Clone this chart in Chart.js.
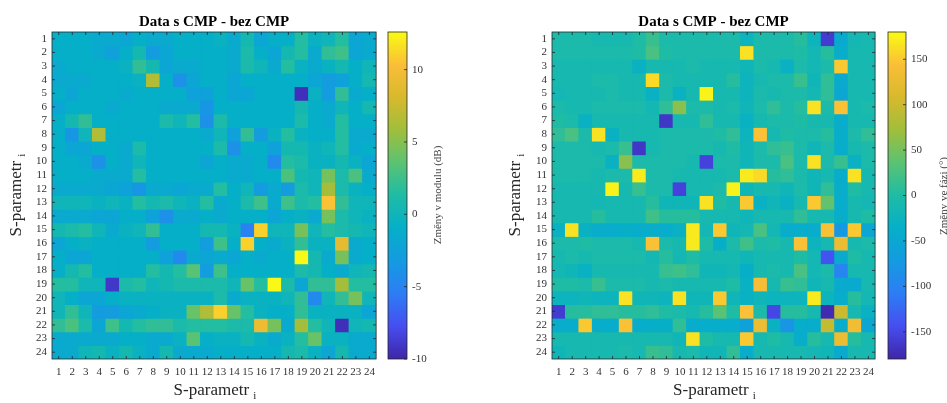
<!DOCTYPE html>
<html>
<head>
<meta charset="utf-8">
<script src="https://cdn.jsdelivr.net/npm/chart.js@4.4.1/dist/chart.umd.min.js"></script>
<style>
body { margin: 0; background: #fff; }
#wrap { position: relative; width: 947px; height: 403px; overflow: hidden; font-family: 'Liberation Serif', 'Times New Roman', serif; color: #262626; }
canvas { position: absolute; top: 0; }
.lbl { position: absolute; white-space: nowrap; text-align: center; }
.rot { transform: rotate(-90deg); }
.lbl sub { font-size: 11px; }
</style>
</head>
<body>
<div id="wrap">
  <canvas id="modul" width="382" height="403" style="left:0"></canvas>
  <canvas id="modulBar" width="80" height="403" style="left:384px"></canvas>
  <canvas id="fazi" width="411" height="403" style="left:470px"></canvas>
  <canvas id="faziBar" width="63" height="403" style="left:884px"></canvas>

  <div class="lbl" style="left:52px;width:326px;top:380px;font-size:17px;line-height:20px">S-parametr <sub>i</sub></div>
  <div class="lbl rot" style="left:-84px;top:185px;width:200px;height:20px;font-size:17px;line-height:20px">S-parametr <sub>i</sub></div>
  <div class="lbl" style="left:552px;width:325px;top:380px;font-size:17px;line-height:20px">S-parametr <sub>i</sub></div>
  <div class="lbl rot" style="left:415px;top:185px;width:200px;height:20px;font-size:17px;line-height:20px">S-parametr <sub>i</sub></div>

  <div class="lbl rot" style="left:337px;top:187px;width:200px;height:16px;font-size:11px;line-height:16px;color:#444">Změny v modulu (dB)</div>
  <div class="lbl rot" style="left:843px;top:188px;width:200px;height:16px;font-size:11px;line-height:16px;color:#444">Změny ve fázi (°)</div>
</div>
<script>
const sLabels = ['1','2','3','4','5','6','7','8','9','10','11','12','13','14','15','16','17','18','19','20','21','22','23','24'];

// změny v modulu (dB), řádky 1..24, sloupce 1..24
const modulData = [
  [-1,-1,-1,-1.5,-1.5,-2,-1,-1.5,-1.5,-1,-1,-1,-0.5,-1.5,0.5,-2,-1,-1,1.5,-0.5,0,1.5,-2,-1.5],
  [-1,-1,-1,-1.5,-2.5,-1,0.5,-3,-2,-1,-1,-1,-1,-1.5,1,-1,-2,0.5,1.5,-1.5,2,2.5,-2,-1.5],
  [-1.5,-1,-1,-1,-1,-0.5,2,0.5,-2,-1.5,-1.5,-1,-1,-1.5,1,0,-1.5,1.5,-0.5,-1.5,-0.5,0.5,-1,0],
  [-1.5,-1.5,-1.5,-1,-1,-1,-0.5,6.5,-1,-4,-2,-1,-1,-2,-1,-1,-1,-1,-1,-2,-3,-2.5,-1,0.5],
  [-1,-2,-1,-1,-1,-1.5,-1,-1,-1,-1,-2.5,-2.5,-1,-2,-2,-1,-1,-1,-9.5,-0.5,-3,2,-1.5,-1],
  [-2,-1,-1,-1,-1.5,-1,-1,-1,-1.5,-1.5,-1.5,-3.5,-1,-1,-1,-1,-1,-1,0.5,-1,-1.5,0,-1,0.5],
  [-1,0.5,2,-1,-1,-1,-1,-1,1,0,1.5,-4,1,-1,-1,-1,-1,-1,1,-1,-1.5,1.5,-1,-1],
  [-1,-3.5,0,6.5,-1,-1,-1,-1,-1,-1,-1,-1.5,0,-2.5,2,-3,-0.5,1.5,-0.5,-1,-1,1.5,-1.5,-1.5],
  [-1,-2,-2,-1,-1,-1.5,1,-1,-1,-1,-1,-1,1,-4,-1,-1,-2.5,0.5,0.5,-0.5,0,1.5,-1.5,-1],
  [-1,-1,-1.5,-4,-1,-1.5,0,-1,-1,-1,-1,-2,-1,-1.5,-1.5,-1,-4.5,1.5,1,-0.5,-0.5,0.5,-0.5,-2],
  [-1,-1,-1,-1.5,-1.5,-1.5,1.5,-1,-1,-1,-1,-1,-1,-1.5,-1.5,-1,-1,3,0.5,0,4.5,1,3,-1.5],
  [-1.5,-1.5,-1.5,-1.5,-2,-2.5,-3.5,-1.5,-1.5,-2,-1.5,-1.5,1.5,-1,0,-3,-1.5,-3,1,0,6,1,-0.5,-1],
  [0,0,0,-0.5,0,-0.5,1.5,0.5,1,0,-0.5,1.5,-1.5,-1,1,2.5,-1.5,2.5,1,1.5,10.5,2,0,0],
  [-1.5,-1.5,-1.5,-2,-2,-1,-1,-2.5,-4,-1.5,-1.5,-1,-1.5,-1,-1,-1,-2,-1,-0.5,-1.5,4.5,1,0,-0.5],
  [0.5,1,1.5,0,-1.5,-0.5,0,2,-1,-1,-1,0.5,0.5,-0.5,-5,11,0,0,4.5,0,1.5,1,0.5,0],
  [-2,-1,-0.5,-1,-1,-1,-1,-3,-1,-1,-1,-3,2.5,-1,11,-1,-1.5,-0.5,2,-0.5,-0.5,9,-1.5,-1],
  [-1,-2,-2,-1,-1,-1,-1,-1,-2.5,-4.5,-1.5,-2,-1.5,-2,-1,-1.5,-1,-1,12.5,0.5,-1.5,4.5,-1.5,-1],
  [-1,0.5,1.5,-1,-1,-1,-1,1.5,0.5,1.5,3.5,-3,2.5,-1,-1,-1,-1,-1,1,0.5,-1,-1.5,0,0.5],
  [1.5,1.5,0,0,-9,1,1.5,0,0.5,1,1,1,1,0,4,1.5,12.5,1,-2,2,2,6,1.5,1.5],
  [0,-1,-2,-2,-1,-0.5,-0.5,-0.5,-0.5,-0.5,-0.5,-0.5,1,-1.5,-0.5,-0.5,-0.5,0,2,-4.5,0,2,4.5,0],
  [0,2,0,-3,-3,-2,-1.5,-1,-0.5,-0.5,4,6.5,11,4,1.5,-0.5,-1,-1,2,-0.5,-0.5,-0.5,-0.5,-2],
  [2,3,1,-2,2.5,0.5,1.5,2,2,1,1.5,1.5,1.5,1,1,9.5,4.5,-1.5,6,1.5,0,-9.5,0,0.5],
  [-1.5,-1.5,-1.5,-1.5,-1.5,-1,-1,-1.5,-1.5,-0.5,3.5,-1,-0.5,-0.5,0.5,-0.5,-1.5,-0.5,1.5,4,-0.5,-0.5,-1.5,-1.5],
  [-1.5,-1.5,0,0.5,-0.5,0.5,-0.5,-1.5,0.5,-1.5,-1.5,-1.5,-1,-1,-1,-1,-1,0.5,1,-0.5,-2,0.5,-1.5,-1.5]
];

// změny ve fázi (°)
const faziData = [
  [-5,-5,-5,-10,-10,-10,0,15,-5,-5,-5,-5,-5,-5,-25,-5,-5,-5,5,-25,-160,-45,-15,-10],
  [-5,-5,-5,-5,-5,-5,0,25,0,-5,-5,-5,-5,-5,165,-5,-5,-5,0,-15,5,-40,-10,-10],
  [-10,-10,-10,-10,-10,-10,-30,-10,-10,-10,-5,-10,-10,-10,-20,-5,-10,-30,-5,-15,-5,150,-10,-10],
  [-10,-10,-10,-5,-5,-10,-10,160,-5,-10,-10,-10,-10,5,-25,-10,-5,-5,15,-20,10,-45,-10,-10],
  [-15,-10,-10,-10,-5,-10,-10,-30,-5,-30,-10,175,-10,-10,-25,-5,-10,-5,-5,-15,10,-50,-10,-10],
  [-5,-10,-10,-5,-5,-5,-5,-15,10,60,-5,-5,-10,-5,-20,-5,10,-5,5,165,-5,145,-10,-5],
  [0,-5,-30,-10,-10,-10,-10,-10,-165,-10,-10,10,-10,-10,-30,-10,-5,-5,0,-10,-10,-40,-10,-10],
  [10,25,-5,165,-30,-10,-10,-10,-5,-5,-5,-5,0,10,-25,145,-10,0,-5,-5,5,-40,-5,10],
  [-5,-5,-5,-10,-5,15,-165,-10,-5,-5,-5,-5,-10,0,-20,-5,10,15,-5,-20,-5,-40,-10,-5],
  [-5,-5,-5,-5,-30,60,-5,-5,-5,-5,-10,-155,-5,-5,-20,-5,-5,25,-5,165,-5,15,-30,-5],
  [-5,-5,-5,-10,-5,-5,170,-5,-5,-10,-10,-10,-10,-5,170,160,5,10,-5,-20,-10,-40,165,-10],
  [-10,-10,-10,-10,175,-10,15,-5,-5,-155,-10,-10,-5,175,-20,-10,-10,-20,-5,-20,10,-40,0,-10],
  [-10,-10,-10,-15,-10,-10,-10,5,-20,-20,-20,165,0,-10,150,-30,-20,-30,-10,150,40,-40,-10,-15],
  [-10,-10,-10,5,-10,-10,-10,20,5,5,5,-10,-10,-10,-20,-10,-10,-10,10,-10,-10,-40,-10,0],
  [-30,165,-30,-40,-40,-35,-40,-40,-40,-30,170,-15,150,-20,-15,25,-15,-40,-40,-40,145,-75,150,-50],
  [-5,-5,0,-5,-5,-5,-10,145,-5,-10,170,0,-35,-5,20,-5,0,-10,145,-25,-10,130,-10,-5],
  [-10,-5,-10,-5,-5,-5,-5,-15,5,-15,0,-10,-10,-10,-20,-10,-10,-10,0,-15,-140,-45,0,-10],
  [-15,-20,-30,-10,-10,-10,-10,-10,15,20,10,-20,-20,-15,-35,-10,-5,-10,25,-15,-5,-100,-10,-10],
  [0,0,-5,15,-5,-5,-5,-10,-5,-10,-10,-10,-10,0,-30,140,-10,15,10,-20,-10,-45,-45,-10],
  [-25,-25,-20,-25,-25,165,-20,-20,-25,165,-20,-20,150,-20,-30,-20,-25,-25,-25,170,-25,-40,5,-15],
  [-160,5,5,10,10,5,5,10,0,-5,-10,5,35,0,145,-5,-150,5,5,-10,-175,100,-10,-30],
  [-40,-40,150,-40,-40,145,-40,-35,-35,10,-40,-40,-40,-40,-60,130,-30,-80,-40,-40,95,-40,135,-50],
  [-10,-10,-10,-10,-10,-10,-10,-10,-10,-20,165,0,-10,-10,150,-10,0,-10,-40,5,-10,130,5,-10],
  [-20,-10,-10,-10,-10,-5,-10,15,10,-10,-5,-20,-20,10,-40,-10,-10,-10,-10,-15,-20,-45,-10,-10]
];

const modulRange = [-10, 12.6];
const faziRange = [-180, 180];
const modulTicks = [-10, -5, 0, 5, 10];
const faziTicks = [-150, -100, -50, 0, 50, 100, 150];

// parula (přibližně), po 0.1
const parulaStops = [
  [62, 38, 168], [70, 78, 240], [45, 125, 245], [20, 155, 225], [5, 175, 200],
  [30, 188, 165], [90, 195, 115], [160, 190, 60], [215, 185, 45], [250, 190, 55], [249, 251, 20]
];

function parula(f) {
  f = Math.max(0, Math.min(1, f));
  const p = f * (parulaStops.length - 1);
  const i = Math.min(Math.floor(p), parulaStops.length - 2);
  const t = p - i;
  const a = parulaStops[i], b = parulaStops[i + 1];
  const c = a.map((v, k) => Math.round(v + (b[k] - v) * t));
  return 'rgb(' + c.join(',') + ')';
}

const serif = "'Liberation Serif', 'Times New Roman', serif";
const tickFont = { family: serif, size: 11 };
const tickColor = '#333';

// rámeček a ticky dovnitř jako v MATLABu
const boxTicks = {
  id: 'boxTicks',
  afterDraw(chart, args, opts) {
    const { ctx, chartArea: a } = chart;
    ctx.save();
    ctx.strokeStyle = '#262626';
    ctx.lineWidth = 0.8;
    ctx.strokeRect(a.left, a.top, a.right - a.left, a.bottom - a.top);
    ctx.beginPath();
    if (opts.x) {
      const sx = chart.scales.x;
      sx.ticks.forEach((t, i) => {
        const x = sx.getPixelForTick(i);
        ctx.moveTo(x, a.bottom); ctx.lineTo(x, a.bottom - 3);
        ctx.moveTo(x, a.top); ctx.lineTo(x, a.top + 3);
      });
    }
    const sy = chart.scales.y;
    sy.ticks.forEach((t, i) => {
      const y = sy.getPixelForTick(i);
      if (opts.left) { ctx.moveTo(a.left, y); ctx.lineTo(a.left + 3, y); }
      ctx.moveTo(a.right, y); ctx.lineTo(a.right - 3, y);
    });
    ctx.stroke();
    ctx.restore();
  }
};

function heatmap(id, matrix, range, yWidth) {
  const datasets = matrix.map((row, r) => ({
    label: sLabels[r],
    data: row.map(() => 1),
    backgroundColor: row.map(v => parula((v - range[0]) / (range[1] - range[0]))),
    borderWidth: 0,
    barPercentage: 1,
    categoryPercentage: 1,
    inflateAmount: 0.5
  }));
  return new Chart(document.getElementById(id), {
    type: 'bar',
    data: { labels: sLabels, datasets },
    plugins: [boxTicks],
    options: {
      responsive: false,
      animation: false,
      events: [],
      layout: { padding: { right: 4 } },
      plugins: {
        legend: { display: false },
        tooltip: { enabled: false },
        title: {
          display: true,
          text: 'Data s CMP - bez CMP',
          fullSize: false,
          color: '#000',
          font: { family: serif, size: 15, weight: 'bold' },
          padding: { top: 13, bottom: 1 }
        },
        boxTicks: { x: true, left: true }
      },
      scales: {
        x: {
          stacked: true,
          grid: { display: false, drawTicks: false },
          border: { display: false },
          ticks: { font: tickFont, color: tickColor, padding: 7, autoSkip: false, maxRotation: 0 },
          afterFit: s => { s.height = 44; }
        },
        y: {
          stacked: true,
          min: 0,
          max: 24,
          reverse: true,
          grid: { display: false, drawTicks: false },
          border: { display: false },
          afterBuildTicks: s => { s.ticks = sLabels.map((l, i) => ({ value: i + 0.5 })); },
          ticks: { font: tickFont, color: tickColor, padding: 5, autoSkip: false, callback: v => String(Math.round(v + 0.5)) },
          afterFit: s => { s.width = yWidth; }
        }
      }
    }
  });
}

function colorbar(id, range, ticks, yWidth) {
  return new Chart(document.getElementById(id), {
    type: 'bar',
    data: {
      labels: [''],
      datasets: [{
        data: [range],
        borderWidth: 0,
        barPercentage: 1,
        categoryPercentage: 1,
        backgroundColor: ctx => {
          const chart = ctx.chart;
          if (!chart.chartArea) return parula(0.5);
          const sy = chart.scales.y;
          const g = chart.ctx.createLinearGradient(0, sy.getPixelForValue(range[0]), 0, sy.getPixelForValue(range[1]));
          parulaStops.forEach((c, i) => g.addColorStop(i / (parulaStops.length - 1), 'rgb(' + c.join(',') + ')'));
          return g;
        }
      }]
    },
    plugins: [boxTicks],
    options: {
      responsive: false,
      animation: false,
      events: [],
      layout: { padding: { left: 4, top: 32, bottom: 44 } },
      plugins: {
        legend: { display: false },
        tooltip: { enabled: false },
        boxTicks: { x: false, left: false }
      },
      scales: {
        x: { display: false },
        y: {
          position: 'right',
          min: range[0],
          max: range[1],
          grid: { display: false, drawTicks: false },
          border: { display: false },
          afterBuildTicks: s => { s.ticks = ticks.map(v => ({ value: v })); },
          ticks: { font: tickFont, color: tickColor, padding: 5 },
          afterFit: s => { s.width = yWidth; }
        }
      }
    }
  });
}

heatmap('modul', modulData, modulRange, 52);
colorbar('modulBar', modulRange, modulTicks, 57);
heatmap('fazi', faziData, faziRange, 82);
colorbar('faziBar', faziRange, faziTicks, 41);
</script>
</body>
</html>
